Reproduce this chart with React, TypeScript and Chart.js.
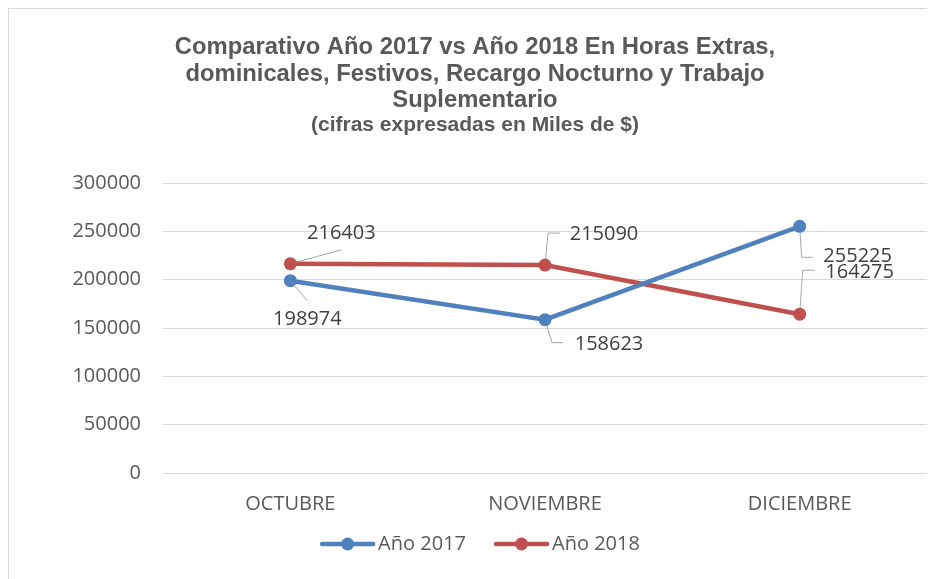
import React, { useEffect, useRef } from "react";
import { Chart, registerables } from "chart.js";

Chart.register(...registerables);

const categories = ["OCTUBRE", "NOVIEMBRE", "DICIEMBRE"];
const series2017 = [198974, 158623, 255225];
const series2018 = [216403, 215090, 164275];
const seriesNames = ["Año 2017", "Año 2018"];
const yTicks = [0, 50000, 100000, 150000, 200000, 250000, 300000];
const titleLines = [
  "Comparativo Año 2017 vs Año 2018 En Horas Extras,",
  "dominicales, Festivos, Recargo Nocturno y Trabajo",
  "Suplementario",
];
const subtitleLine = "(cifras expresadas en Miles de $)";

const BLUE = "#4F81BD";
const RED = "#C0504D";
const TEXT = "#595959";
const LABEL = "#404040";
const FONT = "'Open Sans', 'Noto Sans', sans-serif";

// label placement: [datasetIndex][pointIndex] => text centre offset and leader geometry
const labelLayout: any = [
  [
    { dx: 17, dy: 39, leader: [[17, 20]] },
    { dx: 64, dy: 25, leader: [[7, 23], [18, 23]] },
    { dx: 58, dy: 30, leader: [[2, 31], [13, 31]] },
  ],
  [
    { dx: 51, dy: -31, leader: [[51, -14]] },
    { dx: 59, dy: -31, leader: [[3, -32], [15, -32]] },
    { dx: 60, dy: -42, leader: [[3, -44], [15, -44]] },
  ],
];

const decorPlugin = {
  id: "decor",
  beforeDatasetsDraw(chart: any) {
    const ctx = chart.ctx;
    ctx.save();
    ctx.strokeStyle = "#A6A6A6";
    ctx.lineWidth = 1;
    chart.data.datasets.forEach((ds: any, di: number) => {
      const meta = chart.getDatasetMeta(di);
      meta.data.forEach((pt: any, i: number) => {
        const l = labelLayout[di][i];
        ctx.beginPath();
        ctx.moveTo(pt.x, pt.y);
        l.leader.forEach((p: number[]) => ctx.lineTo(pt.x + p[0], pt.y + p[1]));
        ctx.stroke();
      });
    });
    ctx.restore();
  },
  afterDraw(chart: any) {
    const ctx = chart.ctx;
    ctx.save();
    // title
    ctx.fillStyle = TEXT;
    ctx.textAlign = "center";
    ctx.textBaseline = "alphabetic";
    ctx.font = "bold 23.8px 'Liberation Sans', Arial, sans-serif";
    const cx = 467;
    const baselines = [46, 73, 99];
    titleLines.forEach((t, i) => ctx.fillText(t, cx, baselines[i]));
    ctx.font = "bold 21px 'Liberation Sans', Arial, sans-serif";
    ctx.fillText(subtitleLine, cx, 123);

    // data labels
    ctx.font = `20px ${FONT}`;
    ctx.fillStyle = LABEL;
    ctx.textBaseline = "middle";
    chart.data.datasets.forEach((ds: any, di: number) => {
      const meta = chart.getDatasetMeta(di);
      meta.data.forEach((pt: any, i: number) => {
        const l = labelLayout[di][i];
        ctx.fillText(String(ds.data[i]), pt.x + l.dx, pt.y + l.dy);
      });
    });

    // legend
    ctx.font = `20px ${FONT}`;
    const lineLen = 55;
    const gapText = 3;
    const gapItem = 28;
    const colors = [BLUE, RED];
    const widths = seriesNames.map((n) => ctx.measureText(n).width);
    const total = widths.reduce((a, b) => a + b, 0) + 2 * (lineLen + gapText) + gapItem;
    let x = 472 - total / 2;
    const y = 536;
    seriesNames.forEach((n, i) => {
      ctx.strokeStyle = colors[i];
      ctx.lineWidth = 4.5;
      ctx.lineCap = "round";
      ctx.beginPath();
      ctx.moveTo(x + 2, y);
      ctx.lineTo(x + lineLen - 2, y);
      ctx.stroke();
      ctx.fillStyle = colors[i];
      ctx.beginPath();
      ctx.arc(x + lineLen / 2, y, 6.5, 0, Math.PI * 2);
      ctx.fill();
      ctx.fillStyle = TEXT;
      ctx.textAlign = "left";
      ctx.textBaseline = "middle";
      ctx.fillText(n, x + lineLen + gapText, y);
      x += lineLen + gapText + widths[i] + gapItem;
    });
    ctx.restore();
  },
};

export default function App() {
  const ref = useRef<HTMLCanvasElement | null>(null);
  useEffect(() => {
    document.documentElement.style.overflow = "hidden";
    if (!ref.current) return;
    const chart = new Chart(ref.current, {
      type: "line",
      data: {
        labels: categories,
        datasets: [
          {
            label: seriesNames[0],
            data: series2017,
            borderColor: BLUE,
            backgroundColor: BLUE,
            borderWidth: 4.5,
            pointRadius: 6.5,
            pointBackgroundColor: BLUE,
            pointBorderColor: BLUE,
            pointBorderWidth: 0,
            tension: 0,
          },
          {
            label: seriesNames[1],
            data: series2018,
            borderColor: RED,
            backgroundColor: RED,
            borderWidth: 4.5,
            pointRadius: 6.5,
            pointBackgroundColor: RED,
            pointBorderColor: RED,
            pointBorderWidth: 0,
            tension: 0,
          },
        ],
      },
      options: {
        animation: false,
        responsive: false,
        devicePixelRatio: 1,
        layout: { padding: { top: 175, right: 8, bottom: 48, left: 0 } },
        plugins: {
          legend: { display: false },
          title: { display: false },
          tooltip: { enabled: false },
        },
        scales: {
          x: {
            type: "category",
            offset: true,
            grid: { display: false, drawTicks: false },
            border: { display: false },
            ticks: {
              color: TEXT,
              font: { family: FONT, size: 20 },
              padding: 19,
              maxRotation: 0,
            },
            afterFit: (s: any) => {
              s.height = 50;
            },
          },
          y: {
            min: 0,
            max: 300000,
            afterBuildTicks: (s: any) => {
              s.ticks = yTicks.map((v) => ({ value: v }));
            },
            grid: { color: "#D9D9D9", lineWidth: 1, drawTicks: false },
            border: { display: false },
            ticks: {
              color: TEXT,
              font: { family: FONT, size: 20 },
              padding: 22,
              callback: (v: any) => String(v),
            },
            afterFit: (s: any) => {
              s.width = 155;
            },
          },
        },
      },
      plugins: [decorPlugin],
    } as any);
    return () => chart.destroy();
  }, []);

  return (
    <div style={{ position: "relative", width: 927, height: 571, overflow: "hidden" }}>
      <div
        style={{
          position: "absolute",
          left: 0,
          top: 0,
          width: 1000,
          height: 1000,
          border: "1px solid #D9D9D9",
          boxSizing: "border-box",
          background: "#fff",
        }}
      />
      <canvas
        ref={ref}
        width={927}
        height={563}
        style={{ position: "absolute", left: 0, top: 0, width: 927, height: 563 }}
      />
    </div>
  );
}
